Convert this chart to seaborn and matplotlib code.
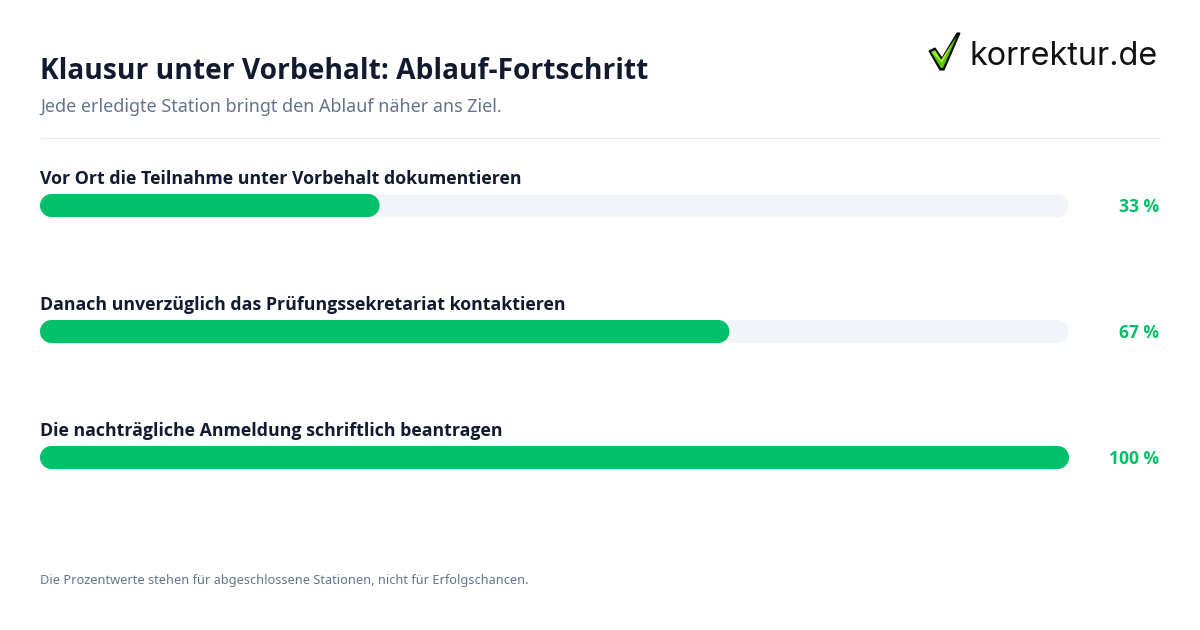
import matplotlib
matplotlib.use('Agg')
import matplotlib.pyplot as plt
import numpy as np
import pandas as pd
import seaborn as sns
from matplotlib.lines import Line2D
from matplotlib.patches import Polygon

title = 'Klausur unter Vorbehalt: Ablauf-Fortschritt'
subtitle = 'Jede erledigte Station bringt den Ablauf näher ans Ziel.'
footnote = 'Die Prozentwerte stehen für abgeschlossene Stationen, nicht für Erfolgschancen.'
logo_text = 'korrektur.de'

steps = ['Vor Ort die Teilnahme unter Vorbehalt dokumentieren',
         'Danach unverzüglich das Prüfungssekretariat kontaktieren',
         'Die nachträgliche Anmeldung schriftlich beantragen']
progress = [33, 67, 100]
full_scale = [100, 100, 100]

GREEN = '#00c16a'
TRACK = '#f1f5f9'
DARK = '#111a2e'
GREY = '#64748b'
W, H = 1200, 630
BOLD = 'Open Sans'  # Noto Sans has no bold cut here


def round_bars(ax):
    # swap the square bars for pills with the same extents
    x_unit = ax.get_position().width * W / 100
    y_unit = ax.get_position().height * H / 3
    angles = np.radians(np.linspace(90, 270, 40))
    for bar in list(ax.patches):
        x0, y0, width, height = bar.get_x(), bar.get_y(), bar.get_width(), bar.get_height()
        r_y = height / 2
        r_x = r_y * y_unit / x_unit
        left = np.column_stack([x0 + r_x + r_x * np.cos(angles), y0 + r_y + r_y * np.sin(angles)])
        right = np.column_stack([x0 + width - r_x - r_x * np.cos(angles), y0 + r_y - r_y * np.sin(angles)])
        pill = Polygon(np.vstack([left, right]), closed=True, facecolor=bar.get_facecolor(),
                       edgecolor='none', zorder=bar.get_zorder())
        bar.remove()
        ax.add_patch(pill)


def draw_logo(fig):
    # checkmark, positions in pixels of the figure
    logo = fig.add_axes([0, 0, 1, 1], facecolor='none')
    logo.set_xlim(0, W)
    logo.set_ylim(H, 0)
    logo.axis('off')
    outer = [(929, 51), (935, 48), (942, 58), (957, 33), (960, 33), (944, 70), (940, 70)]
    inner = [(931, 52), (935, 50), (942, 61), (957, 36), (943, 68), (941, 68)]
    light = [(932, 52), (935, 51), (941, 60), (956, 37), (942, 63)]
    logo.add_patch(Polygon(outer, closed=True, facecolor='#0a0a0a', edgecolor='#0a0a0a', lw=0.8))
    logo.add_patch(Polygon(inner, closed=True, facecolor='#58c80c', edgecolor='none'))
    logo.add_patch(Polygon(light, closed=True, facecolor='#a6ec2a', edgecolor='none'))
    logo.text(970, 65, logo_text, fontsize=23.3, color='#111111', family='Inter', va='baseline', ha='left')


def main():
    sns.set_theme(style='white')
    plt.rcParams['font.family'] = ['Noto Sans', 'DejaVu Sans']

    data = pd.DataFrame({'step': steps, 'progress': progress, 'full': full_scale})

    fig = plt.figure(figsize=(W / 100, H / 100), dpi=100, facecolor='white')
    ax = fig.add_axes([40 / W, 1 - 520.5 / H, 1029 / W, 378 / H], facecolor='none')

    sns.barplot(data=data, y='step', x='full', color=TRACK, saturation=1, width=23 / 126, ax=ax)
    sns.barplot(data=data, y='step', x='progress', color=GREEN, saturation=1, width=23 / 126, ax=ax)
    ax.set_xlim(0, 100)
    ax.set_ylim(2.5, -0.5)
    round_bars(ax)
    ax.axis('off')

    for i, (step, value) in enumerate(zip(steps, progress)):
        ax.annotate(step, (0, i), xytext=(0, 21), textcoords='offset pixels', fontsize=12.75,
                    fontweight='bold', family=BOLD, color=DARK, ha='left', va='baseline')
        ax.annotate(f'{value} %', (100, i), xytext=(90.3, -7), textcoords='offset pixels', fontsize=12.6,
                    fontweight='bold', family=BOLD, color=GREEN, ha='right', va='baseline')

    fig.text(40 / W, 1 - 79 / H, title, fontsize=20.23, fontweight='bold', family=BOLD, color=DARK, va='baseline')
    fig.text(40 / W, 1 - 112 / H, subtitle, fontsize=12.97, color=GREY, va='baseline')
    fig.text(40 / W, 1 - 584 / H, footnote, fontsize=9.19, color=GREY, va='baseline')
    fig.add_artist(Line2D([40 / W, 1160 / W], [1 - 138 / H] * 2, color='#e2e8f0', lw=0.8))

    draw_logo(fig)
    fig.savefig('out.png', dpi=100)


if __name__ == '__main__':
    main()
